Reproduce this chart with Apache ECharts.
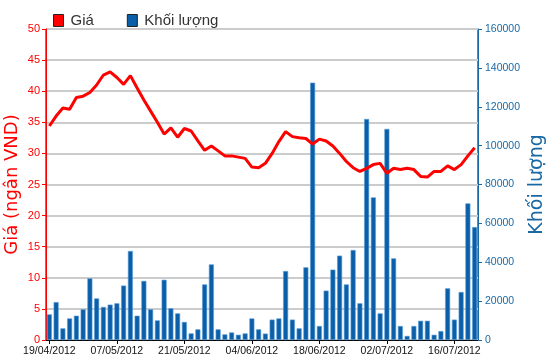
<!DOCTYPE html>
<html>
<head>
<meta charset="utf-8">
<script src="https://cdn.jsdelivr.net/npm/echarts@6/dist/echarts.min.js"></script>
<style>html,body{margin:0;padding:0;background:#fff;}#c{width:550px;height:364px;}</style>
</head>
<body>
<div id="c"></div>
<script>
var dates = [
'19/04/2012','20/04/2012','23/04/2012','24/04/2012','25/04/2012','26/04/2012','27/04/2012','02/05/2012','03/05/2012','04/05/2012',
'07/05/2012','08/05/2012','09/05/2012','10/05/2012','11/05/2012','14/05/2012','15/05/2012','16/05/2012','17/05/2012','18/05/2012',
'21/05/2012','22/05/2012','23/05/2012','24/05/2012','25/05/2012','28/05/2012','29/05/2012','30/05/2012','31/05/2012','01/06/2012',
'04/06/2012','05/06/2012','06/06/2012','07/06/2012','08/06/2012','11/06/2012','12/06/2012','13/06/2012','14/06/2012','15/06/2012',
'18/06/2012','19/06/2012','20/06/2012','21/06/2012','22/06/2012','25/06/2012','26/06/2012','27/06/2012','28/06/2012','29/06/2012',
'02/07/2012','03/07/2012','04/07/2012','05/07/2012','06/07/2012','09/07/2012','10/07/2012','11/07/2012','12/07/2012','13/07/2012',
'16/07/2012','17/07/2012','18/07/2012','19/07/2012'
];
var price = [
34.4,36.0,37.3,37.1,39.0,39.2,39.8,41.0,42.6,43.1,
42.2,41.1,42.5,40.5,38.6,36.8,35.0,33.1,34.1,32.6,
34.0,33.6,32.0,30.5,31.2,30.4,29.6,29.6,29.4,29.2,
27.8,27.7,28.4,30.0,31.9,33.5,32.7,32.5,32.4,31.5,
32.3,32.0,31.2,30.0,28.7,27.7,27.1,27.6,28.2,28.4,
26.8,27.6,27.4,27.6,27.4,26.3,26.2,27.1,27.1,28.0,
27.4,28.2,29.6,30.9
];
var volume = [
13200,19500,6000,11100,12500,15800,31700,21400,17000,18200,
18900,28000,45800,12500,30400,15800,10100,31000,16300,13700,
9300,3400,5500,28600,38900,5500,2900,3900,2700,3400,
11100,5500,3300,10500,11100,35500,10500,6000,37400,132400,
7200,25400,36200,43400,28600,46300,18900,113700,73400,13700,
108600,42000,7200,2100,7200,9900,9900,2700,4600,26600,
10500,24700,70300,58100
];
var priceTicks = {min:0, max:50, step:5};
var volTicks = {min:0, max:160000, step:20000};

var chart = echarts.init(document.getElementById('c'), null, {renderer:'canvas'});
var blue = '#1a69a4';
chart.setOption({
  animation:false,
  backgroundColor:'#fff',
  legend:{
    left:48, top:8, itemWidth:10, itemHeight:12, itemGap:33,
    textStyle:{fontFamily:'Liberation Sans, Arial', fontSize:15, color:'#333', padding:[0,0,0,2]},
    data:[
      {name:'Giá', icon:'rect', itemStyle:{color:'#ff0000', borderColor:'#222', borderWidth:1}},
      {name:'Khối lượng', icon:'rect', itemStyle:{color:'#0b5ea8', borderColor:'#222', borderWidth:1}}
    ]
  },
  grid:{left:46, top:29, right:72, bottom:24, containLabel:false, outerBoundsMode:'none',
        show:true, borderColor:'#000', borderWidth:1, backgroundColor:'transparent'},
  xAxis:{
    type:'category', data:dates, boundaryGap:true,
    axisLine:{lineStyle:{color:'#000', width:1}},
    axisTick:{show:true, interval:9, alignWithLabel:true, length:4, lineStyle:{color:'#000'}},
    axisLabel:{interval:9, color:'#111', fontFamily:'Liberation Sans, Arial', fontSize:10.5, margin:6},
    splitLine:{show:false}
  },
  yAxis:[
    {
      type:'value', min:priceTicks.min, max:priceTicks.max, interval:priceTicks.step, position:'left',
      name:'Giá (ngân VND)', nameLocation:'middle', nameGap:25, nameRotate:90, nameMoveOverlap:false,
      nameTextStyle:{color:'#ff0000', fontFamily:'DejaVu Sans', fontSize:18},
      axisLine:{show:true, lineStyle:{color:'#ff0000', width:1}},
      axisTick:{show:true, length:4, lineStyle:{color:'#ff0000'}},
      axisLabel:{color:'#ff0000', fontFamily:'Liberation Sans, Arial', fontSize:11, margin:6},
      splitLine:{show:true, lineStyle:{color:'#cccccc', width:2}}
    },
    {
      type:'value', min:volTicks.min, max:volTicks.max, interval:volTicks.step, position:'right',
      name:'Khối lượng', nameLocation:'middle', nameGap:50, nameRotate:90, nameMoveOverlap:false,
      nameTextStyle:{color:blue, fontFamily:'DejaVu Sans', fontSize:19},
      axisLine:{show:true, lineStyle:{color:blue, width:1}},
      axisTick:{show:true, length:4, lineStyle:{color:blue}},
      axisLabel:{color:blue, fontFamily:'Liberation Sans, Arial', fontSize:10.5, margin:7,
                 formatter:function(v){return String(v);}},
      splitLine:{show:false}
    }
  ],
  series:[
    {
      name:'Giá', type:'line', yAxisIndex:0, data:price, showSymbol:false, symbol:'none',
      lineStyle:{color:'#ff0000', width:3}, itemStyle:{color:'#ff0000'}, z:5
    },
    {
      name:'Khối lượng', type:'bar', yAxisIndex:1, data:volume, barWidth:5,
      itemStyle:{color:'#0b5ea8', borderColor:'#5c9fd8', borderWidth:0.6}, z:2
    }
  ]
});
</script>
</body>
</html>
